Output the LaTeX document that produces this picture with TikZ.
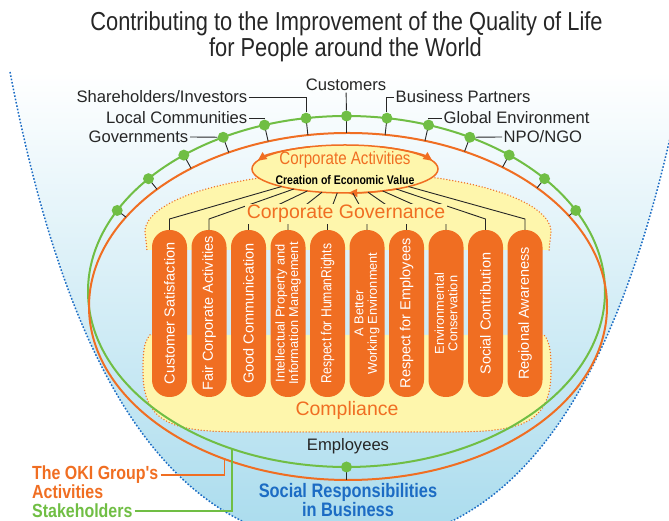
\documentclass[tikz,border=0pt]{standalone}
\usepackage{fontspec}
\setmainfont{Liberation Sans}
\newfontfamily\narrowfont[FakeStretch=0.84]{Liberation Sans}
\usetikzlibrary{shapes,positioning,arrows.meta,calc,intersections}

\definecolor{okiorange}{RGB}{240,110,34}
\definecolor{stakegreen}{RGB}{112,190,68}
\definecolor{govyellow}{RGB}{254,246,172}
\definecolor{csrblue}{RGB}{28,108,196}
\definecolor{bowlbot}{RGB}{168,219,237}
\definecolor{inkgray}{RGB}{38,38,38}

\tikzset{
  dot/.style={circle, fill=stakegreen, minimum size=11pt, inner sep=0},
  tick/.style={draw=inkgray, line width=0.9pt},
  link/.style={draw=inkgray, line width=0.9pt},
  lbl/.style={inner sep=1.5pt, text=inkgray, font=\fontsize{16.6}{18}\selectfont},
  pillar/.style={rotate=90, fill=okiorange, text=white, minimum width=167pt, minimum height=35pt,
                 rounded corners=17pt, inner sep=0, align=center, font=\fontsize{14.5}{15}\selectfont},
  twoline/.style={font=\fontsize{12.8}{13.5}\selectfont},
  lobe/.style={draw=okiorange, line width=1.5pt, dash pattern=on 0pt off 3pt, line cap=round},
  actbox/.style={ellipse, draw=okiorange, fill=govyellow, line width=1.5pt,
                 minimum width=186pt, minimum height=48pt, inner sep=0},
  actarrow/.style={okiorange, line width=1.5pt, -{Triangle[length=9pt,width=8pt]}},
}

\begin{document}
\begin{tikzpicture}[x=1pt,y=1pt]

    \useasboundingbox (0,0) rectangle (669,521);

    % the bowl of social responsibility
    \shade[top color=white, bottom color=bowlbot]
      (10,449) .. controls (60,191) and (150,-24) .. (347,-24)
               .. controls (544,-24) and (634,191) .. (684,449) -- cycle;
    \draw[csrblue, line width=1.5pt, dash pattern=on 1.6pt off 1.8pt]
      (10,449) .. controls (60,191) and (150,-24) .. (347,-24)
               .. controls (544,-24) and (634,191) .. (684,449);

    % governance (top) and compliance (bottom) lobes
    \fill[govyellow] (551,289) arc[start angle=0, end angle=180, x radius=203, y radius=60]
      -- (147,271) -- (549,271) -- cycle;
    \draw[lobe] (549,271) -- (551,289) arc[start angle=0, end angle=180, x radius=203, y radius=60] -- (147,271);
    \fill[govyellow] (150,186) .. controls (143,178) and (143,165) .. (143,149)
      .. controls (143,93) and (180,89) .. (250,89) -- (444,89)
      .. controls (514,89) and (551,93) .. (551,149) .. controls (551,165) and (551,178) .. (544,186) -- cycle;
    \draw[lobe] (150,186) .. controls (143,178) and (143,165) .. (143,149)
      .. controls (143,93) and (180,89) .. (250,89) -- (444,89)
      .. controls (514,89) and (551,93) .. (551,149) .. controls (551,165) and (551,178) .. (544,186);

    % stakeholders ring and activities ring
    \draw[stakegreen, line width=2pt] (346.5,229.5) ellipse[x radius=258.5, y radius=175.5];
    \draw[okiorange, line width=2pt, name path=okiline] (348,214.5) ellipse[x radius=259, y radius=173.5];

    % ticks from every stakeholder to the activities ring
    \foreach \t in {27.5,40,51,61.5,71.5,81,90,99,108.5,118.5,129,140,152.5} {
      \pgfmathsetmacro\nrm{atan2(sin(\t)/175.5, cos(\t)/258.5)+180}
      \coordinate (g) at ($(346.5,229.5)+(\t:258.5 and 175.5)$);
      \path[name path=ray] (g) -- +(\nrm:30);
      \draw[tick, name intersections={of=ray and okiline}] (g) -- (intersection-1);
    }
    \coordinate (empdot) at (346.5,54);
    \coordinate (okibot) at (348,41);
    \draw[tick] (empdot) -- (empdot |- okibot);

    % stakeholder labels
    \node[lbl] (cust) at (346,436) {Customers};
    \node[lbl, anchor=east] (share) at (249,424) {Shareholders/Investors};
    \node[lbl, anchor=east] (local) at (249,403) {Local Communities};
    \node[lbl, anchor=east] (govts) at (190,384) {Governments};
    \node[lbl, anchor=west] (bp) at (394,424) {Business Partners};
    \node[lbl, anchor=west] (ge) at (442,403) {Global Environment};
    \node[lbl, anchor=west] (npo) at (502,384) {NPO/NGO};

    \foreach \t/\n in {27.5/dR6,40/dR5,51/dR4,61.5/dR3,71.5/dR2,81/dR1,90/d0,
                       99/dL1,108.5/dL2,118.5/dL3,129/dL4,140/dL5,152.5/dL6}
      \node[dot] (\n) at ($(346.5,229.5)+(\t:258.5 and 175.5)$) {};
    \node[dot] (emp) at (empdot) {};

    \draw[link] (cust) -- (d0);
    \draw[link] (share.east) -| (dL1);
    \draw[link] (local.east) -| (dL2);
    \draw[link] (govts.east) -- (dL3);
    \draw[link] (bp.west) -| (dR1);
    \draw[link] (ge.west) -| (dR2);
    \draw[link] (npo.west) -- (dR3);

    % corporate activities
    \node[actbox] (act) at (345,352) {};
    \draw[actarrow] ($(act)+(112:93 and 24)$) arc[start angle=112, end angle=160, x radius=93, y radius=24];
    \draw[actarrow] ($(act)+(68:93 and 24)$) arc[start angle=68, end angle=20, x radius=93, y radius=24];
    \draw[actarrow] ($(act)+(305:93 and 24)$) arc[start angle=305, end angle=272, x radius=93, y radius=24];
    \node[text=okiorange, font=\narrowfont\fontsize{18}{20}\selectfont] (acttitle) at (345,361) {Corporate Activities};
    \node[font=\narrowfont\bfseries\fontsize{12.5}{14}\selectfont] (actsub) at (345,341) {Creation of Economic Value};

    % the ten pillars
    \node[pillar] (p1) at (169.5,207.5) {Customer Satisfaction};
    \node[pillar] (p2) at (209,207.5) {Fair Corporate Activities};
    \node[pillar] (p3) at (248.5,207.5) {Good Communication};
    \node[pillar, twoline] (p4) at (288,207.5) {Intellectual Property and\\Information Management};
    \node[pillar, font=\narrowfont\fontsize{14.5}{15}\selectfont] (p5) at (327.5,207.5) {Respect for HumanRights};
    \node[pillar, twoline] (p6) at (367,207.5) {A Better\\Working Environment};
    \node[pillar] (p7) at (406.5,207.5) {Respect for Employees};
    \node[pillar, twoline] (p8) at (446,207.5) {Environmental\\Conservation};
    \node[pillar] (p9) at (485.5,207.5) {Social Contribution};
    \node[pillar] (p10) at (525,207.5) {Regional Awareness};

    % links from activities down to each pillar (pillar top is its east anchor)
    \foreach \i in {1,...,10} {
      \pgfmathsetmacro\t{227+(\i-1)*86/9}
      \pgfmathsetmacro\px{169.5+39.5*(\i-1)}
      \draw[link] ($(act)+(\t:93 and 24)$) -- (\px,302) -- (p\i.east);
    }

    \node[fill=govyellow, inner sep=1.5pt, text=okiorange, font=\fontsize{19.5}{21}\selectfont] (govern) at (346,307) {Corporate Governance};
    \node[text=okiorange, font=\fontsize{19.5}{21}\selectfont] (compl) at (347,111) {Compliance};
    \node[lbl] (empl) at (348,75) {Employees};
    \node[align=center, text=csrblue, font=\narrowfont\bfseries\fontsize{19.5}{18}\selectfont] (csr) at (348,21) {Social Responsibilities\\in Business};

    % title
    \node[text=inkgray, font=\narrowfont\fontsize{26}{28}\selectfont] (title1) at (346.5,497) {Contributing to the Improvement of the Quality of Life};
    \node[text=inkgray, font=\narrowfont\fontsize{26}{28}\selectfont] (title2) at (345.5,471) {for People around the World};

    % legend on the lower left
    \node[anchor=west, inner sep=2pt, text=okiorange, font=\narrowfont\bfseries\fontsize{19}{20}\selectfont] (oki) at (30,46) {The OKI Group's};
    \node[anchor=west, inner sep=2pt, text=okiorange, font=\narrowfont\bfseries\fontsize{19}{20}\selectfont] (okiact) at (30,29) {Activities};
    \node[anchor=west, inner sep=2pt, text=stakegreen, font=\narrowfont\bfseries\fontsize{19}{20}\selectfont] (stake) at (30,10) {Stakeholders};
    \coordinate (okiend) at ($(348,214.5)+(241.6:259 and 173.5)$);
    \coordinate (stakeend) at ($(346.5,229.5)+(243.7:258.5 and 175.5)$);
    \draw[okiorange, line width=1.2pt] (oki.east) -| (okiend);
    \draw[stakegreen, line width=1.2pt] (stake.east) -| (stakeend);

\end{tikzpicture}
\end{document}
